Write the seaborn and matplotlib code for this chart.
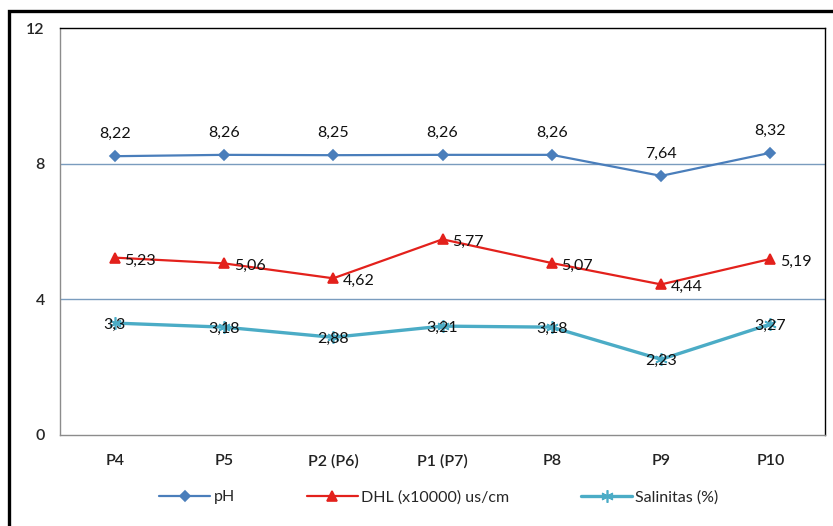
import pandas as pd
import seaborn as sns
import matplotlib.pyplot as plt
from matplotlib.patches import Rectangle

# Data
stations = ['P4', 'P5', 'P2 (P6)', 'P1 (P7)', 'P8', 'P9', 'P10']
ph = [8.22, 8.26, 8.25, 8.26, 8.26, 7.64, 8.32]
dhl = [5.23, 5.06, 4.62, 5.77, 5.07, 4.44, 5.19]
salinitas = [3.3, 3.18, 2.88, 3.21, 3.18, 2.23, 3.27]
y_ticks = [0, 4, 8, 12]

df = pd.DataFrame({'pos': range(len(stations)), 'station': stations,
                   'pH': ph, 'DHL': dhl, 'Salinitas': salinitas})

sns.set_style('white')
plt.rcParams['font.family'] = ['Lato', 'DejaVu Sans']

fig = plt.figure(figsize=(8.33, 5.26), dpi=100)
ax = fig.add_axes([60 / 833, 1 - 435 / 526, 765 / 833, 407 / 526])

series = [
    ('pH', 'pH', '#4A7EBB', 'D', 5, 1.6),
    ('DHL', 'DHL (x10000) us/cm', '#E3211C', '^', 7, 1.6),
    ('Salinitas', 'Salinitas (%)', '#4BACC6', (6, 2, 0), 9, 2.4),
]
for col, label, color, marker, ms, lw in series:
    sns.lineplot(data=df, x='pos', y=col, ax=ax, color=color, marker=marker,
                 markersize=ms, linewidth=lw, label=label,
                 markeredgecolor=color, markeredgewidth=1.2)

# data labels, comma decimal
fmt = lambda v: f'{v:g}'.replace('.', ',')
for i, v in enumerate(ph):
    ax.annotate(fmt(v), (i, v), xytext=(0, 11), textcoords='offset points',
                ha='center', va='bottom', fontsize=11.5, color='#111111')
for i, v in enumerate(dhl):
    ax.annotate(fmt(v), (i, v), xytext=(7, -2), textcoords='offset points',
                ha='left', va='center', fontsize=11.5, color='#111111')
for i, v in enumerate(salinitas):
    ax.annotate(fmt(v), (i, v), xytext=(0, -1), textcoords='offset points',
                ha='center', va='center', fontsize=11.5, color='#111111')

ax.set_xlim(-0.5, len(stations) - 0.5)
ax.set_ylim(0, 12)
ax.set_yticks(y_ticks)
ax.set_yticklabels([str(t) for t in y_ticks], fontsize=11.5, fontweight='semibold')
ax.set_xticks(range(len(stations)))
ax.set_xticklabels(stations, fontsize=11.5, fontweight='semibold', color='#222222')
ax.tick_params(axis='x', length=0, pad=14)
ax.set_xticks([i - 0.5 for i in range(len(stations) + 1)], minor=True)
ax.tick_params(axis='x', which='minor', length=5, color='#9a9a9a', direction='out')
ax.tick_params(axis='y', length=5, color='#9a9a9a', direction='out', pad=6)
ax.set_xlabel('')
ax.set_ylabel('')

for yv in y_ticks[1:3]:
    ax.axhline(yv, color='#7A9CBE', linewidth=1, zorder=0)

ax.spines['left'].set_color('#8c8c8c')
ax.spines['bottom'].set_color('#8c8c8c')
ax.spines['top'].set_color('black')
ax.spines['right'].set_color('black')
for s in ax.spines.values():
    s.set_linewidth(1)

ax.legend(loc='center', bbox_to_anchor=(0.527, 0.055),
          bbox_transform=fig.transFigure, ncol=3, frameon=False,
          fontsize=11.5, handlelength=3.2, columnspacing=4.5, handletextpad=0.2)

# thick outer chart border (cut off on right/bottom in the reference)
fig.patches.append(Rectangle((8.5 / 833, -0.1), 1.2, 1.1 - 11 / 526,
                             transform=fig.transFigure, fill=False,
                             edgecolor='black', linewidth=2.4))

fig.savefig('out.png', dpi=100)
